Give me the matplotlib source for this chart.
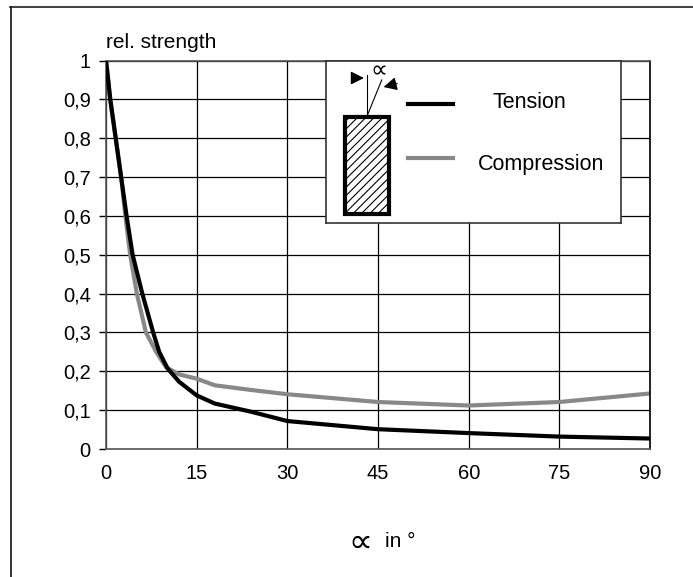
import matplotlib
matplotlib.use('Agg')
import matplotlib.pyplot as plt
from matplotlib.lines import Line2D
from matplotlib.patches import Rectangle

plt.rcParams['font.family'] = ['Liberation Sans', 'DejaVu Sans']
plt.rcParams['hatch.linewidth'] = 0.8

# data
angle_tension = [0, 0.7, 1.6, 2.5, 3.4, 4.4, 6.0, 7.8, 8.8, 10.2, 12.1, 15,
                 18, 24, 30, 45, 60, 75, 90]
tension = [1.0, 0.9, 0.8, 0.7, 0.6, 0.5, 0.4, 0.3, 0.25, 0.207, 0.173, 0.138,
           0.117, 0.096, 0.072, 0.051, 0.041, 0.032, 0.027]

angle_compression = [0, 0.7, 1.6, 2.5, 3.2, 4.0, 5.1, 6.6, 8.3, 9.9, 12.1, 15,
                     18, 24, 30, 45, 60, 75, 90]
compression = [1.0, 0.9, 0.8, 0.7, 0.6, 0.5, 0.4, 0.3, 0.25, 0.211, 0.192,
               0.181, 0.164, 0.152, 0.141, 0.121, 0.112, 0.121, 0.143]

x_ticks = [0, 15, 30, 45, 60, 75, 90]
y_ticks = [0, 0.1, 0.2, 0.3, 0.4, 0.5, 0.6, 0.7, 0.8, 0.9, 1.0]
y_labels = ['0', '0,1', '0,2', '0,3', '0,4', '0,5', '0,6', '0,7', '0,8',
            '0,9', '1']

f = plt.figure(figsize=(6.93, 5.77), dpi=100)
ax = f.add_axes([0.153, 0.2218, 0.785, 0.6733])

ax.plot(angle_tension, tension, color='black', lw=3, zorder=3)
ax.plot(angle_compression, compression, color='#888888', lw=3, zorder=2)

ax.set_xlim(0, 90)
ax.set_ylim(0, 1)
ax.set_xticks(x_ticks)
ax.set_yticks(y_ticks)
ax.set_yticklabels(y_labels)
ax.tick_params(axis='y', length=5, width=1, pad=6, labelsize=14.5)
ax.tick_params(axis='x', length=0, pad=11, labelsize=14.5)
ax.grid(color='black', lw=0.9)
for s in ax.spines.values():
    s.set_color('#555555')
    s.set_linewidth(1.2)
ax.spines['right'].set_color('black')

# x axis label: big alpha-like sign then "in °"
ax.text(0.467, -0.24, '\u221d', transform=ax.transAxes, fontsize=24,
        ha='center', va='center', family='DejaVu Sans')
ax.text(0.513, -0.238, 'in \u00b0', transform=ax.transAxes, fontsize=15,
        ha='left', va='center')

f.text(0.153, 0.927, 'rel. strength', fontsize=15, ha='left', va='center')

# outer frame (top and left only)
f.add_artist(Line2D([0.0144, 1.0], [0.988, 0.988], color='#333333', lw=1.3))
f.add_artist(Line2D([0.016, 0.016], [0.0, 0.988], color='#222222', lw=1.3))

# legend box with the specimen sketch
lg = f.add_axes([0.4704, 0.614, 0.4257, 0.2802])
lg.set_xlim(0, 1)
lg.set_ylim(0, 1)
lg.set_xticks([])
lg.set_yticks([])
for s in lg.spines.values():
    s.set_color('#333333')
    s.set_linewidth(1.2)

lg.add_patch(Rectangle((0.064, 0.056), 0.149, 0.599, facecolor='white',
                       edgecolor='black', hatch='////', lw=3))
lg.plot([0.138, 0.138], [0.654, 0.914], color='black', lw=0.8)
lg.plot([0.138, 0.189], [0.654, 0.883], color='black', lw=0.8)
lg.annotate('', xy=(0.138, 0.895), xytext=(0.08, 0.895),
            arrowprops=dict(arrowstyle='-|>', color='black', lw=0.9,
                            mutation_scale=20))
lg.annotate('', xy=(0.186, 0.835), xytext=(0.25, 0.865),
            arrowprops=dict(arrowstyle='-|>', color='black', lw=0.9,
                            mutation_scale=20))
lg.text(0.178, 0.94, '\u221d', fontsize=17, ha='center', va='center',
        family='DejaVu Sans')

lg.plot([0.278, 0.431], [0.735, 0.735], color='black', lw=3)
lg.plot([0.278, 0.431], [0.401, 0.401], color='#888888', lw=3)
lg.text(0.566, 0.741, 'Tension', fontsize=15.5, ha='left', va='center')
lg.text(0.515, 0.36, 'Compression', fontsize=15.5, ha='left', va='center')

f.savefig('out.png', dpi=100)
